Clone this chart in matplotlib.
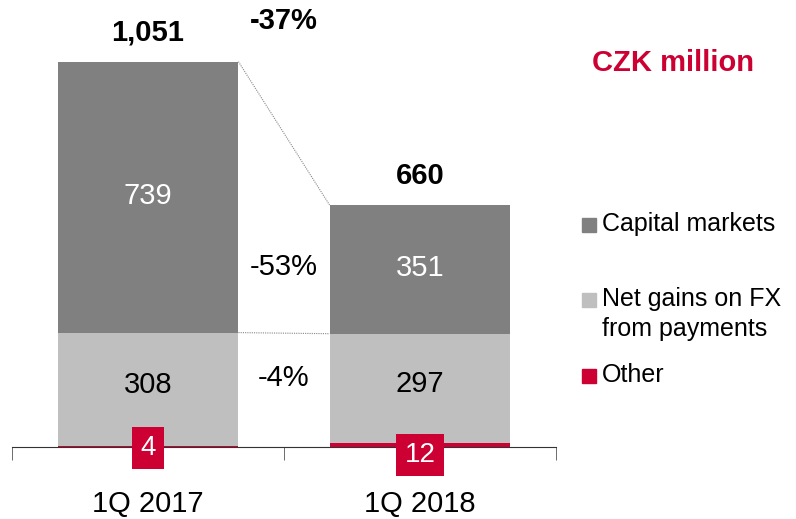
import matplotlib.pyplot as plt
from matplotlib.patches import Rectangle

plt.rcParams['font.family'] = ['Liberation Sans', 'DejaVu Sans']

#data
periods = ['1Q 2017', '1Q 2018']
other = [4, 12]
fx_payments = [308, 297]
capital_markets = [739, 351]
totals = ['1,051', '660']
change_total = '-37%'
change_capital = '-53%'
change_fx = '-4%'
series_names = ['Capital markets', 'Net gains on FX\nfrom payments', 'Other']

c_cap = '#808080'
c_fx = '#bfbfbf'
c_red = '#cc0033'

fig = plt.figure(figsize=(7.96, 5.19), dpi=100)
ax = fig.add_axes([12/796, 72/519, 544/796, 440/519])

x = [0, 1]
w = 0.665
b2 = [o + f for o, f in zip(other, fx_payments)]
top = [b + c for b, c in zip(b2, capital_markets)]

ax.bar(x, other, w, color=c_red)
ax.bar(x, fx_payments, w, bottom=other, color=c_fx)
ax.bar(x, capital_markets, w, bottom=b2, color=c_cap)

# connector lines between bars
for lv in [[0, 0], b2, top]:
    ax.plot([x[0] + w/2, x[1] - w/2], lv, color='#888888', lw=0.8, ls=(0, (1, 1)))

ax.set_xlim(-0.5, 1.5)
ax.set_ylim(0, 1200)
for s in ['top', 'right', 'left']:
    ax.spines[s].set_visible(False)
ax.spines['bottom'].set_color('#333333')
ax.set_yticks([])
ax.set_xticks(x)
ax.set_xticklabels(periods, fontsize=21)
ax.tick_params(axis='x', length=0, pad=31)
ax.set_xticks([-0.5, 0.5, 1.5], minor=True)
ax.tick_params(axis='x', which='minor', length=9, color='#555555')

# segment labels
for i in x:
    ax.text(i, b2[i] + capital_markets[i]/2 + 4, str(capital_markets[i]), ha='center', va='center',
            fontsize=21, color='white')
    ax.text(i, other[i] + fx_payments[i]/2 + 12, str(fx_payments[i]), ha='center', va='center',
            fontsize=21, color='black')
    ax.annotate(totals[i], (i, top[i]), xytext=(0, 21), textcoords='offset points',
                ha='center', va='center', fontsize=21, fontweight='bold')
ax.text(0, -3, str(other[0]), ha='center', va='center', fontsize=20, color='white',
        bbox=dict(boxstyle='square,pad=0.3', fc=c_red, ec='none'))
ax.text(1, -22, str(other[1]), ha='center', va='center', fontsize=20, color='white',
        bbox=dict(boxstyle='square,pad=0.3', fc=c_red, ec='none'))

ax.text(0.5, 1163, change_total, ha='center', va='center', fontsize=21, fontweight='bold')
ax.text(0.5, 490, change_capital, ha='center', va='center', fontsize=21)
ax.text(0.5, 188, change_fx, ha='center', va='center', fontsize=21)

fig.text(673/796, 1 - 63/519, 'CZK million', ha='center', va='center', fontsize=21,
         fontweight='bold', color=c_red)

# legend
for yy, col, name in zip([225, 300, 376], [c_cap, c_fx, c_red], series_names):
    fig.patches.append(Rectangle((582/796, 1 - (yy + 7)/519), 14/796, 14/519,
                                 transform=fig.transFigure, color=col))
    fig.text(602/796, 1 - (yy - 13)/519, name, ha='left', va='top', fontsize=18,
             linespacing=1.3)

plt.savefig('out.png', dpi=100)
